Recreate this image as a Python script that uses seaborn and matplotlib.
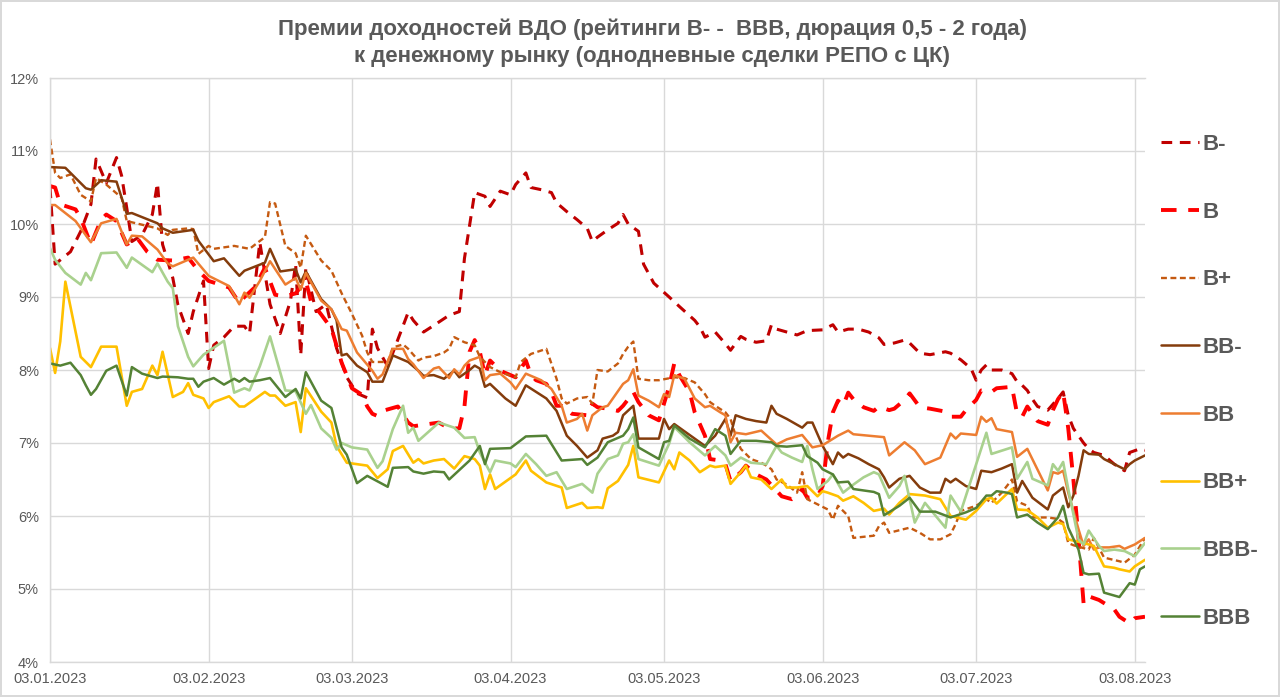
import pandas as pd
import matplotlib
matplotlib.use("Agg")
import matplotlib.pyplot as plt
import matplotlib.dates as mdates
from matplotlib.ticker import MultipleLocator, FuncFormatter
import seaborn as sns

START = "2023-01-03"
series_names = ["B-", "B", "B+", "BB-", "BB", "BB+", "BBB-", "BBB"]

# ---- data: days since 03.01.2023 and spread values (%) ----
b_minus_days = [0, 1, 4, 6, 8, 9, 11, 13, 14, 15, 16, 18, 20, 21, 22, 24, 25, 27, 28, 30, 31, 32, 34, 36, 38, 39, 41, 43, 45, 47, 48, 49, 50, 52, 54, 56, 58, 60, 62, 63, 64, 66, 70, 71, 73, 75, 78, 80, 81, 83, 85, 86, 88, 90, 91, 93, 94, 96, 98, 99, 101, 103, 105, 106, 107, 109, 111, 112, 113, 115, 116, 118, 121, 123, 126, 127, 128, 130, 132, 133, 135, 136, 138, 140, 141, 142, 144, 146, 148, 151, 153, 154, 156, 158, 160, 162, 163, 165, 167, 168, 170, 172, 175, 176, 178, 180, 181, 182, 183, 184, 186, 188, 189, 190, 191, 192, 193, 195, 197, 198, 199, 200, 202, 203, 204, 206, 208, 210, 211, 213, 214]
b_minus_vals = [10.50, 9.45, 9.62, 9.90, 10.27, 10.89, 10.56, 10.91, 10.66, 10.22, 9.76, 9.85, 10.13, 10.56, 9.72, 9.26, 8.89, 8.50, 8.80, 9.22, 8.02, 8.34, 8.45, 8.60, 8.60, 8.50, 9.75, 8.90, 8.50, 8.95, 9.45, 8.20, 9.40, 8.80, 8.90, 8.30, 7.90, 7.68, 7.62, 8.56, 8.30, 8.05, 8.79, 8.68, 8.52, 8.61, 8.75, 8.80, 9.53, 10.43, 10.38, 10.24, 10.45, 10.40, 10.54, 10.70, 10.50, 10.47, 10.43, 10.29, 10.17, 10.06, 9.94, 9.76, 9.82, 9.92, 10.01, 10.13, 10.00, 9.90, 9.45, 9.19, 9.00, 8.87, 8.68, 8.59, 8.45, 8.52, 8.36, 8.27, 8.46, 8.42, 8.38, 8.40, 8.62, 8.56, 8.52, 8.48, 8.54, 8.55, 8.62, 8.52, 8.56, 8.56, 8.52, 8.44, 8.35, 8.37, 8.41, 8.37, 8.23, 8.21, 8.25, 8.23, 8.14, 8.02, 7.86, 8.00, 8.07, 8.00, 8.00, 7.95, 7.84, 7.79, 7.72, 7.60, 7.50, 7.45, 7.61, 7.70, 7.38, 7.20, 7.00, 6.92, 6.87, 6.83, 6.71, 6.62, 6.87, 6.92, 6.90]

b_days = [0, 1, 2, 5, 6, 8, 10, 11, 13, 15, 16, 17, 19, 21, 24, 27, 29, 31, 35, 37, 38, 40, 42, 44, 46, 48, 50, 51, 53, 55, 57, 59, 61, 62, 63, 64, 65, 68, 70, 71, 74, 76, 78, 80, 81, 82, 83, 84, 85, 86, 88, 91, 93, 94, 95, 97, 98, 99, 100, 102, 105, 106, 107, 109, 111, 112, 113, 114, 115, 117, 119, 121, 122, 123, 125, 126, 128, 129, 131, 132, 133, 135, 136, 138, 140, 143, 145, 146, 147, 148, 150, 151, 152, 153, 154, 155, 156, 157, 159, 161, 162, 164, 165, 167, 168, 170, 172, 175, 176, 178, 179, 181, 182, 184, 185, 188, 189, 190, 191, 193, 195, 196, 197, 198, 199, 200, 201, 202, 203, 205, 208, 209, 211, 212, 214]
b_vals = [10.52, 10.50, 10.27, 10.20, 10.08, 9.72, 10.06, 10.13, 10.04, 9.72, 9.76, 9.81, 9.62, 9.51, 9.50, 9.54, 9.36, 9.22, 9.13, 8.92, 9.00, 9.13, 9.40, 9.03, 9.01, 9.05, 9.22, 8.94, 8.76, 8.57, 8.10, 7.75, 7.66, 7.50, 7.40, 7.37, 7.44, 7.50, 7.28, 7.23, 7.26, 7.28, 7.20, 7.20, 7.50, 8.25, 8.41, 8.25, 7.93, 8.13, 7.99, 7.90, 8.13, 7.93, 7.86, 7.81, 7.70, 7.51, 7.51, 7.40, 7.38, 7.54, 7.49, 7.47, 7.44, 7.51, 7.60, 7.70, 7.56, 7.38, 7.31, 7.77, 8.09, 7.93, 7.70, 7.42, 7.10, 6.78, 6.76, 6.71, 6.48, 6.60, 6.69, 6.57, 6.50, 6.27, 6.23, 6.27, 6.37, 6.25, 6.27, 6.41, 7.01, 7.42, 7.58, 7.51, 7.69, 7.60, 7.49, 7.44, 7.50, 7.45, 7.47, 7.59, 7.68, 7.49, 7.47, 7.43, 7.36, 7.36, 7.45, 7.59, 7.72, 7.70, 7.75, 7.77, 7.40, 7.36, 7.50, 7.30, 7.25, 7.45, 7.60, 7.70, 7.20, 6.50, 5.70, 4.80, 4.90, 4.85, 4.72, 4.62, 4.53, 4.60, 4.62]

b_plus_days = [0, 1, 2, 4, 6, 8, 9, 11, 14, 15, 18, 21, 23, 24, 27, 28, 29, 31, 32, 36, 39, 42, 43, 44, 46, 48, 49, 50, 53, 55, 57, 59, 61, 62, 63, 66, 67, 69, 70, 72, 73, 75, 77, 78, 79, 81, 83, 84, 86, 88, 91, 92, 94, 97, 99, 100, 101, 103, 105, 106, 107, 109, 111, 112, 113, 114, 115, 117, 119, 122, 124, 126, 128, 129, 130, 132, 133, 134, 135, 137, 139, 140, 141, 142, 144, 146, 147, 148, 150, 152, 153, 154, 156, 157, 161, 162, 163, 164, 168, 170, 172, 174, 176, 177, 178, 181, 183, 184, 186, 188, 189, 191, 192, 195, 197, 198, 199, 200, 203, 204, 206, 209, 210, 212, 214]
b_plus_vals = [11.16, 10.70, 10.63, 10.68, 10.40, 10.31, 10.63, 10.54, 10.36, 10.04, 9.99, 9.94, 9.85, 9.92, 9.94, 9.93, 9.59, 9.70, 9.66, 9.70, 9.66, 9.82, 10.30, 10.28, 9.70, 9.60, 9.40, 9.84, 9.50, 9.36, 9.05, 8.77, 8.47, 8.24, 8.11, 8.11, 8.31, 8.35, 8.29, 8.13, 8.17, 8.19, 8.24, 8.29, 8.45, 8.38, 8.34, 8.18, 8.04, 7.97, 7.90, 8.11, 8.22, 8.29, 7.88, 7.61, 7.54, 7.61, 7.63, 7.54, 8.00, 7.98, 8.09, 8.22, 8.32, 8.39, 7.88, 7.86, 7.86, 7.90, 7.89, 7.83, 7.67, 7.56, 7.51, 7.42, 7.33, 7.10, 6.92, 6.78, 6.73, 6.69, 6.64, 6.50, 6.43, 6.32, 6.60, 6.23, 6.16, 6.09, 5.95, 6.14, 6.00, 5.70, 5.73, 5.86, 5.91, 5.77, 5.84, 5.77, 5.68, 5.68, 5.75, 5.89, 6.07, 6.14, 6.23, 6.18, 6.32, 6.50, 6.20, 6.14, 5.98, 5.98, 5.96, 5.91, 5.63, 5.60, 5.54, 5.70, 5.43, 5.38, 5.36, 5.47, 5.70]

bb_minus_days = [0, 3, 7, 8, 10, 13, 15, 16, 21, 22, 24, 26, 28, 29, 32, 34, 37, 38, 42, 43, 45, 48, 49, 50, 53, 55, 56, 57, 58, 60, 62, 63, 65, 67, 70, 72, 73, 75, 77, 79, 80, 82, 83, 84, 85, 86, 89, 91, 93, 97, 99, 101, 103, 105, 107, 108, 110, 111, 112, 114, 115, 119, 120, 121, 122, 128, 130, 132, 133, 134, 136, 138, 140, 141, 142, 144, 147, 148, 149, 151, 153, 154, 155, 156, 158, 160, 162, 163, 164, 166, 168, 170, 172, 174, 175, 176, 177, 179, 181, 182, 184, 186, 188, 189, 190, 192, 195, 196, 198, 199, 200, 201, 202, 203, 205, 206, 208, 210, 211, 212, 214]
bb_minus_vals = [10.78, 10.77, 10.49, 10.47, 10.60, 10.58, 10.14, 10.15, 10.01, 9.94, 9.88, 9.90, 9.92, 9.77, 9.49, 9.53, 9.29, 9.36, 9.47, 9.66, 9.35, 9.38, 9.20, 9.35, 8.97, 8.83, 8.68, 8.20, 8.22, 8.06, 7.97, 7.84, 7.84, 8.20, 8.11, 7.99, 7.92, 7.93, 7.88, 7.99, 7.90, 8.00, 8.06, 8.02, 7.77, 7.81, 7.61, 7.51, 7.79, 7.61, 7.44, 7.10, 6.96, 6.80, 6.90, 7.06, 7.10, 7.15, 7.38, 7.51, 7.06, 7.06, 7.33, 7.19, 7.26, 6.96, 7.10, 7.33, 7.10, 7.38, 7.33, 7.30, 7.28, 7.51, 7.40, 7.33, 7.21, 7.28, 7.28, 6.96, 6.71, 6.87, 6.80, 6.85, 6.79, 6.71, 6.64, 6.53, 6.39, 6.51, 6.55, 6.39, 6.32, 6.32, 6.51, 6.46, 6.51, 6.41, 6.37, 6.62, 6.60, 6.65, 6.71, 6.32, 6.48, 6.25, 6.09, 6.28, 6.39, 6.12, 6.28, 6.55, 6.90, 6.85, 6.84, 6.78, 6.71, 6.64, 6.71, 6.76, 6.83]

bb_days = [0, 1, 3, 5, 8, 10, 13, 15, 16, 18, 21, 23, 24, 26, 28, 31, 35, 37, 38, 39, 41, 43, 46, 48, 49, 50, 53, 55, 56, 57, 58, 60, 63, 64, 65, 67, 69, 70, 71, 73, 75, 76, 78, 79, 80, 81, 82, 84, 85, 86, 88, 90, 91, 93, 96, 98, 100, 101, 103, 104, 105, 106, 108, 109, 110, 112, 113, 114, 115, 117, 119, 120, 121, 122, 124, 126, 128, 129, 131, 132, 133, 134, 136, 139, 142, 144, 147, 149, 151, 154, 156, 157, 160, 163, 164, 167, 169, 171, 174, 176, 177, 178, 181, 182, 183, 184, 185, 188, 189, 191, 195, 196, 197, 198, 199, 201, 202, 203, 204, 205, 207, 209, 210, 212, 214]
bb_vals = [10.26, 10.26, 10.15, 10.04, 9.75, 10.01, 10.07, 9.72, 9.84, 9.83, 9.65, 9.46, 9.42, 9.48, 9.54, 9.29, 9.15, 8.90, 9.06, 8.99, 9.22, 9.49, 9.17, 9.26, 9.10, 9.33, 8.95, 8.83, 8.70, 8.56, 8.54, 8.24, 7.99, 7.88, 7.94, 8.29, 8.29, 8.15, 8.08, 7.89, 8.02, 8.04, 7.89, 8.01, 7.94, 8.06, 8.13, 8.18, 7.86, 7.93, 7.95, 7.83, 7.74, 7.95, 7.86, 7.74, 7.51, 7.28, 7.33, 7.40, 7.17, 7.38, 7.49, 7.51, 7.61, 7.81, 7.86, 8.01, 7.65, 7.58, 7.49, 7.67, 7.63, 7.93, 7.88, 7.61, 7.49, 7.51, 7.42, 7.38, 7.01, 7.14, 7.12, 7.17, 6.98, 7.05, 7.11, 6.94, 6.97, 7.10, 7.17, 7.12, 7.10, 7.08, 6.83, 7.01, 6.90, 6.71, 6.80, 7.13, 7.06, 7.13, 7.11, 7.36, 7.29, 7.34, 7.19, 7.15, 6.81, 6.92, 6.35, 6.60, 6.58, 6.62, 6.32, 5.82, 5.59, 5.68, 5.54, 5.57, 5.57, 5.59, 5.55, 5.61, 5.70]

bb_plus_days = [0, 1, 2, 3, 6, 8, 10, 13, 15, 16, 18, 20, 21, 22, 24, 26, 27, 28, 30, 31, 32, 35, 37, 38, 42, 43, 44, 46, 48, 49, 50, 53, 55, 56, 58, 62, 64, 66, 67, 69, 71, 72, 73, 75, 77, 79, 81, 83, 84, 85, 86, 87, 91, 93, 94, 97, 100, 101, 104, 105, 107, 108, 109, 111, 113, 114, 115, 119, 121, 122, 123, 125, 127, 129, 130, 132, 133, 135, 136, 137, 139, 141, 143, 144, 146, 148, 150, 151, 152, 154, 155, 157, 159, 161, 163, 164, 166, 168, 171, 174, 176, 179, 181, 183, 184, 185, 188, 189, 191, 193, 195, 197, 198, 199, 202, 204, 206, 208, 209, 211, 212, 214]
bb_plus_vals = [8.30, 7.96, 8.39, 9.21, 8.18, 8.04, 8.32, 8.32, 7.51, 7.70, 7.74, 8.06, 7.93, 8.25, 7.63, 7.70, 7.82, 7.66, 7.61, 7.48, 7.56, 7.64, 7.50, 7.50, 7.70, 7.65, 7.65, 7.51, 7.56, 7.15, 7.75, 7.43, 7.28, 6.96, 6.73, 6.69, 6.52, 6.64, 6.89, 6.96, 6.73, 6.78, 6.72, 6.76, 6.78, 6.65, 6.82, 6.78, 6.69, 6.37, 6.57, 6.37, 6.57, 6.76, 6.62, 6.46, 6.39, 6.11, 6.18, 6.11, 6.12, 6.11, 6.38, 6.48, 6.70, 6.96, 6.53, 6.46, 6.76, 6.64, 6.87, 6.76, 6.60, 6.69, 6.67, 6.69, 6.44, 6.60, 6.69, 6.53, 6.50, 6.37, 6.50, 6.39, 6.39, 6.41, 6.27, 6.34, 6.32, 6.27, 6.21, 6.27, 6.18, 6.07, 6.10, 6.02, 6.18, 6.30, 6.28, 6.23, 6.00, 5.95, 6.07, 6.23, 6.25, 6.17, 6.37, 6.09, 6.08, 5.98, 5.84, 5.91, 5.89, 5.68, 5.63, 5.59, 5.31, 5.29, 5.27, 5.24, 5.31, 5.40]

bbb_minus_days = [0, 1, 3, 6, 7, 8, 10, 13, 15, 16, 18, 20, 21, 23, 24, 25, 27, 28, 30, 34, 36, 38, 39, 41, 43, 46, 48, 50, 51, 53, 55, 56, 57, 59, 62, 64, 65, 67, 69, 70, 71, 72, 76, 79, 81, 83, 84, 86, 87, 90, 91, 93, 95, 97, 99, 101, 104, 106, 107, 109, 111, 112, 113, 114, 115, 119, 121, 122, 125, 128, 130, 132, 133, 135, 137, 140, 142, 143, 145, 147, 148, 149, 150, 152, 153, 155, 157, 159, 161, 162, 164, 166, 167, 169, 171, 175, 176, 178, 183, 184, 188, 189, 191, 192, 195, 196, 197, 198, 199, 201, 202, 203, 205, 206, 208, 210, 212, 214]
bbb_minus_vals = [9.67, 9.51, 9.33, 9.17, 9.33, 9.23, 9.60, 9.61, 9.40, 9.54, 9.44, 9.34, 9.46, 9.21, 9.12, 8.60, 8.18, 8.05, 8.21, 8.40, 7.69, 7.75, 7.72, 8.05, 8.46, 7.72, 7.71, 7.40, 7.52, 7.20, 7.07, 6.91, 7.00, 6.94, 6.91, 6.66, 6.75, 7.19, 7.51, 7.14, 7.21, 7.03, 7.28, 7.21, 7.07, 7.08, 6.87, 6.60, 6.76, 6.72, 6.67, 6.85, 6.71, 6.55, 6.60, 6.37, 6.44, 6.32, 6.58, 6.78, 6.83, 6.99, 7.01, 7.12, 6.78, 6.69, 6.99, 7.22, 7.01, 6.83, 6.96, 6.83, 6.69, 6.80, 6.73, 6.71, 6.96, 6.87, 6.80, 6.74, 6.96, 6.64, 6.37, 6.48, 6.57, 6.32, 6.43, 6.53, 6.60, 6.57, 6.25, 6.41, 6.55, 5.91, 6.18, 5.84, 6.28, 6.06, 7.14, 6.85, 6.94, 6.51, 6.74, 6.51, 6.42, 6.71, 6.62, 6.74, 6.37, 5.68, 5.61, 5.80, 5.59, 5.52, 5.54, 5.52, 5.45, 5.63]

bbb_days = [0, 2, 4, 6, 7, 8, 9, 11, 13, 15, 16, 18, 21, 22, 25, 27, 28, 29, 30, 32, 34, 36, 37, 38, 39, 41, 43, 46, 48, 49, 50, 53, 55, 57, 58, 60, 62, 66, 67, 70, 71, 73, 75, 77, 78, 80, 82, 84, 85, 86, 90, 93, 97, 100, 104, 105, 107, 109, 112, 113, 114, 115, 119, 120, 121, 122, 125, 128, 130, 132, 133, 135, 138, 141, 142, 144, 147, 148, 150, 151, 153, 154, 156, 157, 161, 162, 163, 166, 168, 170, 173, 176, 179, 181, 183, 184, 185, 187, 188, 189, 191, 193, 195, 197, 198, 199, 201, 202, 203, 205, 206, 208, 209, 211, 212, 213, 214]
bbb_vals = [8.09, 8.06, 8.10, 7.93, 7.79, 7.66, 7.74, 7.99, 8.06, 7.65, 8.04, 7.95, 7.89, 7.91, 7.90, 7.88, 7.88, 7.77, 7.84, 7.89, 7.80, 7.88, 7.84, 7.89, 7.84, 7.86, 7.89, 7.63, 7.74, 7.61, 7.97, 7.58, 7.48, 6.94, 6.84, 6.45, 6.55, 6.40, 6.66, 6.67, 6.61, 6.58, 6.61, 6.60, 6.50, 6.63, 6.76, 6.96, 6.71, 6.92, 6.93, 7.09, 7.10, 6.76, 6.78, 6.70, 6.80, 7.01, 7.10, 7.19, 7.35, 6.94, 6.78, 7.01, 7.03, 7.24, 7.06, 6.94, 7.19, 7.10, 6.85, 7.03, 7.03, 7.01, 6.96, 6.95, 6.97, 6.82, 6.73, 6.64, 6.57, 6.46, 6.47, 6.37, 6.33, 6.30, 6.01, 6.14, 6.25, 6.06, 6.06, 5.98, 6.05, 6.11, 6.28, 6.28, 6.34, 6.32, 6.30, 5.98, 6.02, 5.91, 5.82, 5.98, 6.14, 5.84, 5.54, 5.22, 5.20, 5.21, 4.95, 4.91, 4.89, 5.08, 5.06, 5.27, 5.31]

series_days = [b_minus_days, b_days, b_plus_days, bb_minus_days, bb_days, bb_plus_days, bbb_minus_days, bbb_days]
series_vals = [b_minus_vals, b_vals, b_plus_vals, bb_minus_vals, bb_vals, bb_plus_vals, bbb_minus_vals, bbb_vals]

title_text = ("Премии доходностей ВДО (рейтинги В- -  ВВВ, дюрация 0,5 - 2 года)\n"
              "к денежному рынку (однодневные сделки РЕПО с ЦК)")

# ---- styles ----
colors = {"B-": "#C00000", "B": "#FF0000", "B+": "#C55A11", "BB-": "#843C0C",
          "BB": "#ED7D31", "BB+": "#FFC000", "BBB-": "#A9D18E", "BBB": "#548235"}
widths = {"B-": 2.2, "B": 2.8, "B+": 1.7, "BB-": 1.8, "BB": 1.8,
          "BB+": 1.9, "BBB-": 1.9, "BBB": 1.8}
styles = {"B-": (0, (3.5, 2.5)), "B": (0, (4.0, 3.0)), "B+": (0, (2.5, 1.5)),
          "BB-": "-", "BB": "-", "BB+": "-", "BBB-": "-", "BBB": "-"}

frames = []
start = pd.Timestamp(START)
for name, d, v in zip(series_names, series_days, series_vals):
    frames.append(pd.DataFrame({"date": start + pd.to_timedelta(d, unit="D"),
                                "value": v, "rating": name}))
df = pd.concat(frames, ignore_index=True)

sns.set_theme(style="white")
plt.rcParams["font.family"] = ["Liberation Sans", "DejaVu Sans"]

W, H = 1280, 697
fig = plt.figure(figsize=(W / 100, H / 100), dpi=100)
fig.patch.set_facecolor("white")
fig.patch.set_edgecolor("#D9D9D9")
fig.patch.set_linewidth(1.5)
ax = fig.add_axes([50 / W, 1 - 662 / H, (1145 - 50) / W, (662 - 78) / H])

for name in series_names:
    sub = df[df["rating"] == name]
    sns.lineplot(data=sub, x="date", y="value", ax=ax, color=colors[name],
                 linewidth=widths[name], linestyle=styles[name], label=name,
                 legend=False, solid_joinstyle="round", dash_capstyle="butt")

ax.set_ylim(4, 12)
ax.set_xlim(start, start + pd.Timedelta(days=max(max(d) for d in series_days)))
ax.yaxis.set_major_locator(MultipleLocator(1))
ax.yaxis.set_major_formatter(FuncFormatter(lambda v, p: f"{v:.0f}%"))
ax.xaxis.set_major_locator(mdates.MonthLocator(bymonthday=3))
ax.xaxis.set_major_formatter(mdates.DateFormatter("%d.%m.%Y"))
ax.grid(True, color="#D9D9D9", linewidth=1.0)
ax.set_axisbelow(True)
for s in ["top", "left", "bottom"]:
    ax.spines[s].set_color("#D9D9D9")
    ax.spines[s].set_linewidth(1.0)
ax.spines["right"].set_visible(False)
ax.tick_params(axis="both", length=0, labelsize=10.5, labelcolor="#595959")
ax.tick_params(axis="y", pad=8)
ax.tick_params(axis="x", pad=7)
ax.set_xlabel("")
ax.set_ylabel("")

handles, labels = ax.get_legend_handles_labels()
fig.legend(handles, labels, loc="upper left", bbox_to_anchor=(1161 / W, 1 - 134 / H),
           frameon=False, labelcolor="#595959",
           prop={"weight": "bold", "size": 16, "family": ["Liberation Sans", "DejaVu Sans"]},
           handlelength=1.72, handletextpad=0.15, labelspacing=2.10,
           borderpad=0, borderaxespad=0)

fig.text(652 / W, 1 - 43 / H, title_text, ha="center", va="center",
         fontsize=16, fontweight="bold", color="#595959", linespacing=1.37,
         family=["Liberation Sans Narrow", "Liberation Sans", "DejaVu Sans"])

fig.savefig("out.png", dpi=100, facecolor=fig.get_facecolor(),
            edgecolor=fig.get_edgecolor())
